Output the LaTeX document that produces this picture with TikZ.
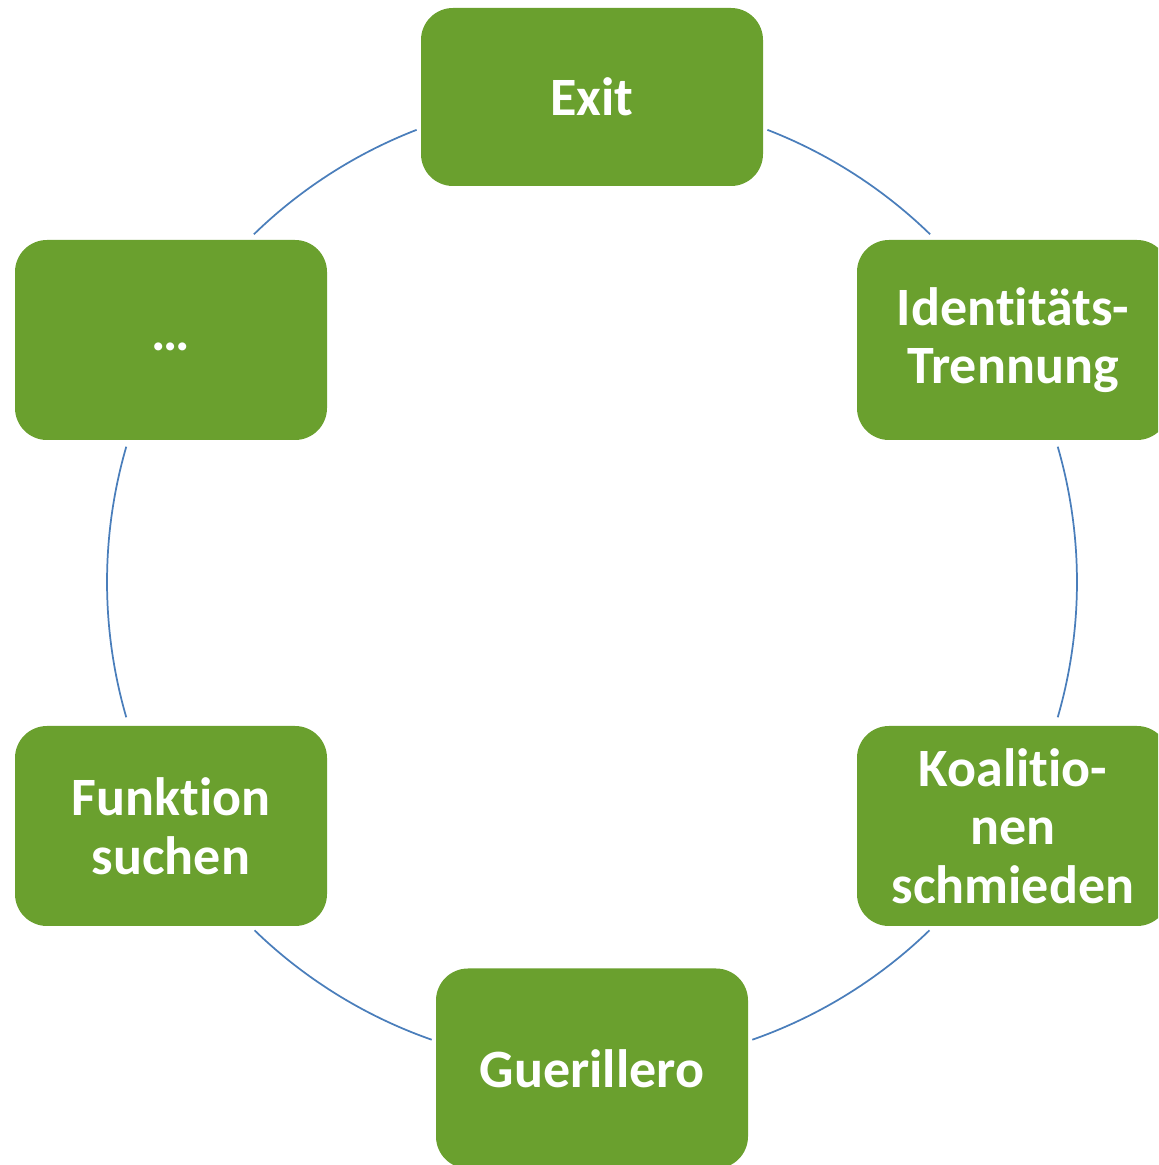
\documentclass[tikz,border=0pt]{standalone}
\usepackage{fontspec}
\setmainfont{Carlito}[RawFeature={-liga;-clig;-dlig}]
\definecolor{boxgreen}{RGB}{106,160,46}
\definecolor{ringblue}{RGB}{74,126,187}
\begin{document}
\begin{tikzpicture}[x=0.75pt,y=0.75pt,
  cyclebox/.style={rectangle, rounded corners=24pt, fill=boxgreen, draw=none,
    text=white, align=center, inner sep=0pt,
    minimum width=234pt, minimum height=150pt,
    font=\fontsize{40.5}{44}\selectfont\bfseries},
  ring/.style={draw=ringblue, line width=1.3pt}]
\useasboundingbox (0,0) rectangle (1158,1165);
\clip (0,0) rectangle (1158,1165);
\coordinate (c) at (592,583);
\node[cyclebox, minimum width=256.5pt, minimum height=133.5pt] (exit) at (592,1068) {Exit};
\node[cyclebox] (ident) at (1013,825) {Identitäts-\\Trennung};
\node[cyclebox] (koal) at (1013,339) {Koalitio-\\nen\\schmieden};
\node[cyclebox] (guer) at (592,96.5) {Guerillero};
\node[cyclebox] (funk) at (171,339) {Funktion\\suchen};
\node[cyclebox] (dots) at (171,825) {\raisebox{-8pt}[0pt][0pt]{…}};
% ring segments between the boxes
\draw[ring] ([shift={(68.8:485)}]c) arc[start angle=68.8, end angle=45.8, radius=485];
\draw[ring] ([shift={(16.2:485)}]c) arc[start angle=16.2, end angle=-16.2, radius=485];
\draw[ring] ([shift={(-45.9:485)}]c) arc[start angle=-45.9, end angle=-70.7, radius=485];
\draw[ring] ([shift={(-109.3:485)}]c) arc[start angle=-109.3, end angle=-134.1, radius=485];
\draw[ring] ([shift={(-163.8:485)}]c) arc[start angle=-163.8, end angle=-196.2, radius=485];
\draw[ring] ([shift={(134.2:485)}]c) arc[start angle=134.2, end angle=111.2, radius=485];
\end{tikzpicture}
\end{document}
